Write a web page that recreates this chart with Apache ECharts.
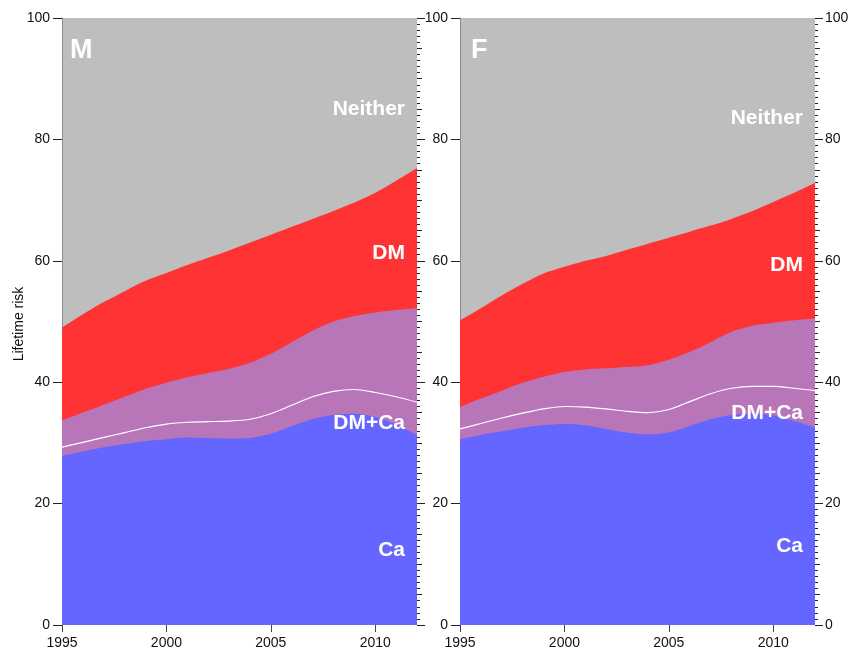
<!DOCTYPE html>
<html><head><meta charset="utf-8">
<script src="https://cdn.jsdelivr.net/npm/echarts@6/dist/echarts.min.js"></script>
<style>html,body{margin:0;padding:0;background:#fff}#c{width:858px;height:652px}</style>
</head><body><div id="c"></div>
<script>
// Years (x categories)
const years = ['1995','1996','1997','1998','1999','2000','2001','2002','2003','2004','2005','2006','2007','2008','2009','2010','2011','2012'];
// Cumulative upper boundaries of each band (lifetime risk, %), M = males
const mCaTop     = [27.9,28.6,29.3,29.8,30.3,30.6,30.9,30.8,30.7,30.8,31.5,32.8,33.9,34.6,34.8,34.3,33.0,31.3];
const mSplitLine = [29.3,30.1,30.9,31.7,32.5,33.1,33.4,33.5,33.6,33.9,34.8,36.2,37.6,38.5,38.8,38.3,37.6,36.7];
const mBothTop   = [33.7,35.0,36.3,37.6,38.9,39.9,40.8,41.5,42.2,43.2,44.7,46.6,48.5,50.0,50.9,51.5,51.9,52.2];
const mDmTop     = [49.0,51.2,53.2,55.0,56.7,58.0,59.3,60.5,61.7,63.0,64.3,65.6,66.9,68.2,69.6,71.2,73.2,75.3];
// F = females
const fCaTop     = [30.6,31.3,31.9,32.5,32.9,33.1,32.9,32.3,31.7,31.4,31.7,32.8,33.9,34.6,34.8,34.5,33.6,32.5];
const fSplitLine = [32.3,33.2,34.1,34.9,35.6,36.0,35.9,35.6,35.2,35.0,35.5,36.8,38.1,39.0,39.3,39.3,39.0,38.6];
const fBothTop   = [35.9,37.3,38.6,39.9,40.9,41.7,42.1,42.3,42.5,42.8,43.7,45.0,46.6,48.3,49.3,49.8,50.2,50.5];
const fDmTop     = [50.2,52.2,54.3,56.2,57.9,59.0,60.0,60.8,61.8,62.8,63.8,64.8,65.8,66.9,68.2,69.7,71.2,72.8];
// Axis settings
const yMin = 0, yMax = 100, yMajor = 20, yMid = 5;
const xLabelStep = 5;

const FONT = '"Liberation Sans", Arial, Helvetica, sans-serif';
const C_GRAY = '#bebebe', C_RED = '#ff3333', C_PURPLE = '#b876b8', C_BLUE = '#6565ff';

const chart = echarts.init(document.getElementById('c'), null, {renderer: 'canvas'});

const grids = [
  {left: 62, top: 18, width: 355, height: 607, show: true, backgroundColor: C_GRAY, borderWidth: 0},
  {left: 460, top: 18, width: 355, height: 607, show: true, backgroundColor: C_GRAY, borderWidth: 0}
];

function xAx(gi) {
  return {
    type: 'category', gridIndex: gi, data: years, boundaryGap: false,
    axisLine: {show: false},
    axisTick: {show: true, length: 7, interval: (i, v) => (+v) % xLabelStep === 0, lineStyle: {color: '#444', width: 1}},
    axisLabel: {interval: (i, v) => (+v) % xLabelStep === 0, fontSize: 14, color: '#111', margin: 11, fontFamily: FONT},
    splitLine: {show: false}
  };
}
function yLeft(gi) {
  return {
    type: 'value', gridIndex: gi, min: yMin, max: yMax, interval: yMajor, position: 'left',
    axisLine: {show: true, lineStyle: {color: '#8c8c8c', width: 1}},
    axisTick: {show: true, length: 9, lineStyle: {color: '#222', width: 1}},
    axisLabel: {fontSize: 14, color: '#111', margin: 12, fontFamily: FONT},
    splitLine: {show: false}
  };
}
function yRightMinor(gi) {
  return {
    type: 'value', gridIndex: gi, min: yMin, max: yMax, interval: yMid, position: 'right',
    axisLine: {show: false},
    axisTick: {show: true, length: 5, lineStyle: {color: '#222', width: 1}},
    minorTick: {show: true, splitNumber: 5, length: 3, lineStyle: {color: '#222', width: 1}},
    axisLabel: {show: false}, splitLine: {show: false}
  };
}
function yRightMajor(gi, labels) {
  return {
    type: 'value', gridIndex: gi, min: yMin, max: yMax, interval: yMajor, position: 'right',
    axisLine: {show: false},
    axisTick: {show: true, length: 8, lineStyle: {color: '#222', width: 1}},
    axisLabel: {show: labels, fontSize: 14, color: '#111', margin: 10, fontFamily: FONT},
    splitLine: {show: false}
  };
}

function area(xi, yi, data, color, z) {
  return {type: 'line', xAxisIndex: xi, yAxisIndex: yi, data: data, smooth: 0.3, symbol: 'none',
    lineStyle: {width: 0}, areaStyle: {color: color, opacity: 1}, z: z, silent: true};
}
function split(xi, yi, data) {
  return {type: 'line', xAxisIndex: xi, yAxisIndex: yi, data: data, smooth: 0.3, symbol: 'none',
    lineStyle: {color: '#ffffff', width: 1.2}, z: 10, silent: true};
}

function lbl(text, x, y, size, align) {
  return {type: 'text', x: x, y: y, z: 100, silent: true,
    style: {text: text, fill: '#ffffff', font: 'bold ' + size + 'px ' + FONT,
      align: align, textAlign: align, verticalAlign: 'middle', textVerticalAlign: 'middle'}};
}

const option = {
  animation: false,
  backgroundColor: '#ffffff',
  grid: grids,
  xAxis: [xAx(0), xAx(1)],
  yAxis: [yLeft(0), yRightMinor(0), yRightMajor(0, false), yLeft(1), yRightMinor(1), yRightMajor(1, true)],
  series: [
    area(0, 0, mDmTop, C_RED, 2),
    area(0, 0, mBothTop, C_PURPLE, 3),
    area(0, 0, mCaTop, C_BLUE, 4),
    split(0, 0, mSplitLine),
    area(1, 3, fDmTop, C_RED, 2),
    area(1, 3, fBothTop, C_PURPLE, 3),
    area(1, 3, fCaTop, C_BLUE, 4),
    split(1, 3, fSplitLine)
  ],
  graphic: [
    lbl('M', 70, 51, 27, 'left'),
    lbl('Neither', 405, 109, 21, 'right'),
    lbl('DM', 405, 253, 21, 'right'),
    lbl('DM+Ca', 405, 423, 21, 'right'),
    lbl('Ca', 405, 550, 21, 'right'),
    lbl('F', 471, 51, 27, 'left'),
    lbl('Neither', 803, 118, 21, 'right'),
    lbl('DM', 803, 265, 21, 'right'),
    lbl('DM+Ca', 803, 413, 21, 'right'),
    lbl('Ca', 803, 546, 21, 'right'),
    {type: 'text', x: 19, y: 324, rotation: Math.PI / 2, silent: true,
      style: {text: 'Lifetime risk', fill: '#111', font: '14px ' + FONT,
        align: 'center', textAlign: 'center', verticalAlign: 'middle', textVerticalAlign: 'middle'}}
  ]
};
chart.setOption(option);
</script>
</body></html>
